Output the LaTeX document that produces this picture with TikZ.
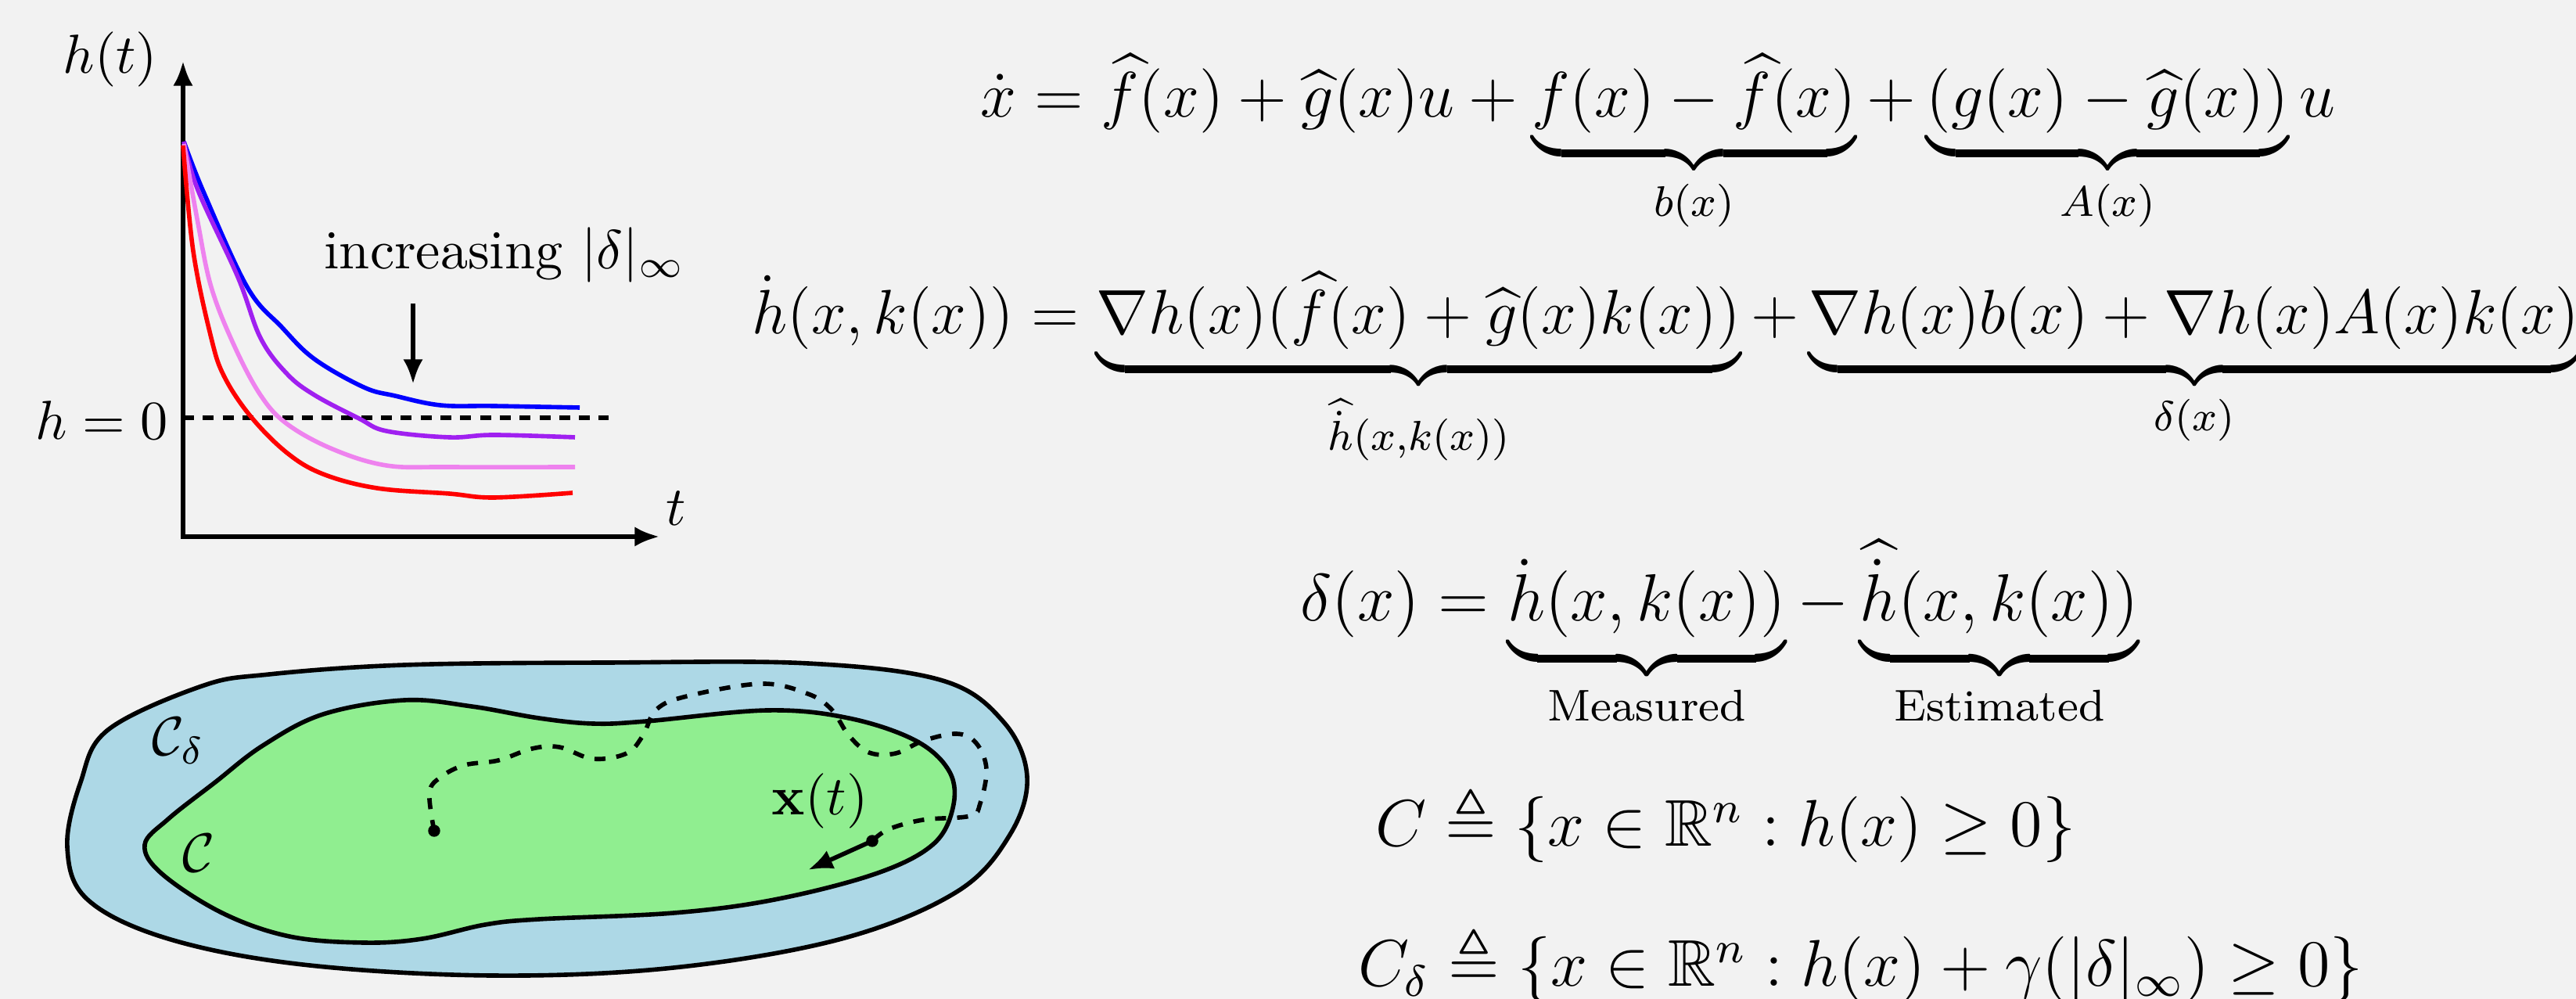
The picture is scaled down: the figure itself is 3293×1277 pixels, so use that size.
\documentclass[tikz,border=0pt]{standalone}
\usepackage{amsmath, amssymb}
\usepackage{tikz}
\usetikzlibrary{arrows.meta, positioning}
\usepackage{xcolor}
\definecolor{BgGray}{HTML}{F2F2F2}
\definecolor{SetBlue}{HTML}{ADD8E6}
\definecolor{SetGreen}{HTML}{90EE90}
\definecolor{CBlue}{HTML}{0000FF}
\definecolor{CPurple}{HTML}{A020F0}
\definecolor{CViolet}{HTML}{EE82EE}
\definecolor{CRed}{HTML}{FF0000}

\tikzset{
  axis/.style={line width=0.8pt, {Latex[length=4.5pt,width=3.6pt]}-{Latex[length=4.5pt,width=3.6pt]}},
  hcurve/.style={line width=0.8pt},
  zeroline/.style={line width=0.8pt, dash pattern=on 2pt off 1.6pt},
  region/.style={draw=black, line width=0.8pt},
  traj/.style={line width=0.8pt, dash pattern=on 2pt off 2pt},
  pointer/.style={line width=0.8pt, -{Latex[length=4.5pt,width=3.6pt]}},
  eqn/.style={anchor=base west, inner sep=0pt, font=\large},
}

\begin{document}
\begin{tikzpicture}[x=0.05mm, y=-0.05mm]
  \path[use as bounding box, fill=BgGray] (0,0) rectangle (3293,1277);

  % h(t) plot
  \coordinate (origin) at (234,686);
  \coordinate (ytop) at (234,78);
  \coordinate (xend) at (843,686);
  \draw[axis] (ytop) -- (origin) -- (xend);
  \node (hlabel) at (141,76) {$h(t)$};
  \node (tlabel) at (864,650) {$t$};
  \node[anchor=base, inner sep=0pt] (zerolabel) at (130,562) {$h=0$};
  \coordinate (zeroend) at (778,534);
  \draw[zeroline] (origin |- zeroend) -- (zeroend);

  \draw[hcurve, CBlue] plot[smooth, tension=0.6] coordinates {(235,181) (260,245) (316,367)
    (360,418) (402,459) (465,495) (505,506) (563,518) (631,519) (741,521)};
  \draw[hcurve, CPurple] plot[smooth, tension=0.6] coordinates {(235,181) (253,243) (304,354)
    (333,432) (367,478) (402,505) (459,535) (494,551) (574,559) (631,556) (735,559)};
  \draw[hcurve, CViolet] plot[smooth, tension=0.6] coordinates {(235,184) (253,285) (270,367) (299,441)
    (333,505) (367,542) (425,574) (494,595) (574,597) (735,597)};
  \draw[hcurve, CRed] plot[smooth, tension=0.6] coordinates {(234,186) (247,321) (270,432) (287,482)
    (321,533) (367,579) (413,606) (482,624) (574,631) (631,636) (732,630)};

  \node[anchor=base west, inner sep=0pt] (inclabel) at (413,344) {increasing $|\delta|_\infty$};
  \coordinate (arrtop) at (528,388);
  \coordinate (arrtip) at (528,491);
  \draw[pointer] (arrtop) -- (arrtip);

  % safe sets
  \draw[region, fill=SetBlue] plot[smooth cycle, tension=0.6] coordinates {(258,877) (138,933) (103,1000)
    (86,1083) (112,1150) (215,1200) (387,1233) (628,1247) (861,1237) (1076,1200) (1223,1140)
    (1291,1067) (1313,993) (1283,923) (1205,870) (1033,848) (775,847) (517,850) (344,862)};
  \draw[region, fill=SetGreen] plot[smooth cycle, tension=0.6] coordinates {(517,895) (603,903) (689,918)
    (758,925) (826,922) (981,908) (1085,918) (1171,947) (1214,987) (1218,1033) (1192,1080)
    (1119,1117) (990,1150) (861,1167) (689,1175) (620,1182) (540,1200) (465,1205) (370,1197)
    (284,1167) (207,1117) (185,1080) (215,1047) (275,1000) (336,953) (413,913)};
  \node (Cdlabel) at (228,947) {$\mathcal{C}_\delta$};
  \node (Clabel) at (254,1090) {$\mathcal{C}$};
  \node[anchor=base] (xlabel) at (1048,1042) {$\mathbf{x}(t)$};

  \coordinate (xstart) at (555,1062);
  \coordinate (xt) at (1115,1075);
  \coordinate (xtdir) at (1033,1112);
  \draw[traj] plot[smooth, tension=0.6] coordinates {(555,1062) (549,1013) (564,993) (594,978)
    (637,972) (680,957) (715,955) (758,970) (801,963) (822,940) (839,907) (878,890) (973,874)
    (1033,887) (1063,907) (1085,940) (1111,962) (1145,963) (1180,947) (1223,938) (1248,950)
    (1261,983) (1253,1027) (1240,1043) (1180,1048) (1136,1060) (1115,1075)};
  \fill (xstart) circle (1.1pt);
  \fill (xt) circle (1.1pt);
  \draw[pointer] (xt) -- (xtdir);

  % equations
  \node[eqn, scale=0.975] (eqxdot) at (1252,150) {$\displaystyle \dot x = \widehat f(x) + \widehat g(x)u
    + \underbrace{f(x) - \widehat f(x)}_{b(x)} + \underbrace{(g(x) - \widehat g(x))}_{A(x)}u$};
  \node[eqn, scale=0.95] (eqhdot) at (960,427) {$\displaystyle \dot h(x,k(x)) = \underbrace{\nabla h(x)(\widehat f(x)
    + \widehat g(x)k(x))}_{\widehat{\dot h}(x,k(x))} + \underbrace{\nabla h(x)b(x)
    + \nabla h(x)A(x)k(x)}_{\delta(x)}$};
  \node[eqn, scale=1.01] (eqdelta) at (1661,794) {$\displaystyle \delta(x) = \underbrace{\dot h(x,k(x))}_{\text{Measured}}
    - \underbrace{\widehat{\dot h}(x,k(x))}_{\text{Estimated}}$};
  \node[eqn] (eqC) at (1757,1082) {$C \triangleq \{x \in \mathbb{R}^n : h(x) \geq 0\}$};
  \node[eqn] (eqCd) at (1735,1261) {$C_\delta \triangleq \{x \in \mathbb{R}^n : h(x) + \gamma(|\delta|_\infty) \geq 0\}$};
\end{tikzpicture}
\end{document}
